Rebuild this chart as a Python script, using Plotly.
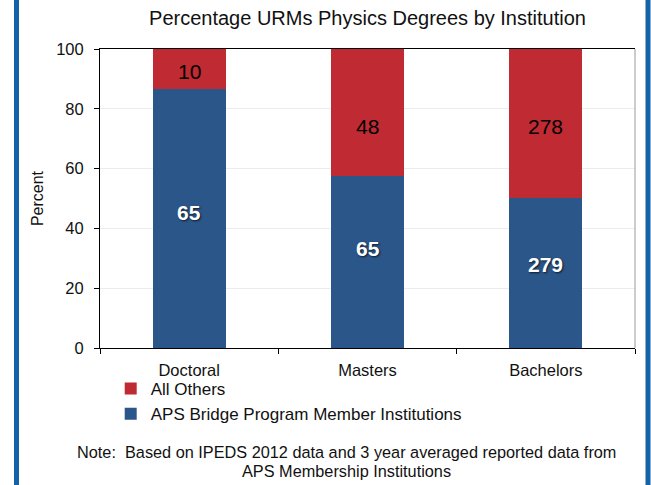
import plotly.graph_objects as go

categories = ["Doctoral", "Masters", "Bachelors"]
aps_counts = [65, 65, 279]
other_counts = [10, 48, 278]
series_names = ["APS Bridge Program Member Institutions", "All Others"]
y_ticks = [0, 20, 40, 60, 80, 100]
note_lines = ["Note:  Based on IPEDS 2012 data and 3 year averaged reported data from",
              "APS Membership Institutions"]

# label vertical nudges (pixels) as placed in the original
aps_label_shift = [5.5, 14, 8.5]
other_label_shift = [-3, -14, -3]

totals = [a + o for a, o in zip(aps_counts, other_counts)]
aps_pct = [100 * a / t for a, t in zip(aps_counts, totals)]
other_pct = [100 * o / t for o, t in zip(other_counts, totals)]

BLUE = "#2B5689"
RED = "#BF2A33"
FONT = "Liberation Sans, Arial, Helvetica, sans-serif"
TXT = "#111111"

fig = go.Figure()
fig.add_trace(go.Bar(
    x=categories, y=aps_pct, name=series_names[0],
    marker=dict(color=BLUE, line=dict(width=0)),
    hoverinfo="skip", width=0.41,
))
fig.add_trace(go.Bar(
    x=categories, y=other_pct, name=series_names[1],
    marker=dict(color=RED, line=dict(width=0)),
    hoverinfo="skip", width=0.41,
))

for cat, a_pct, o_pct, a_n, o_n, a_s, o_s in zip(
        categories, aps_pct, other_pct, aps_counts, other_counts,
        aps_label_shift, other_label_shift):
    fig.add_annotation(
        x=cat, y=a_pct / 2, text=str(a_n), showarrow=False, yshift=a_s,
        xanchor="center", yanchor="middle",
        font=dict(color="white", size=21, family=FONT, weight="bold",
                  shadow="1px 1px 2px rgba(0,0,0,0.7)"),
    )
    fig.add_annotation(
        x=cat, y=a_pct + o_pct / 2, text=str(o_n), showarrow=False, yshift=o_s,
        xanchor="center", yanchor="middle",
        font=dict(color="black", size=21, family=FONT),
    )

fig.update_layout(
    width=651, height=485,
    margin=dict(l=100, r=16, t=49, b=137),
    paper_bgcolor="white", plot_bgcolor="white",
    barmode="stack",
    font=dict(family=FONT, size=16.5, color=TXT),
    title=dict(text="Percentage URMs Physics Degrees by Institution",
               x=0.5, xref="paper", xanchor="center",
               y=1 - 18 / 485, yanchor="middle",
               font=dict(size=20, family=FONT, color=TXT)),
    showlegend=True,
    legend=dict(orientation="v", x=0.02, xanchor="left", y=-0.077, yanchor="top",
                traceorder="reversed", font=dict(size=17, family=FONT, color=TXT),
                itemwidth=30, tracegroupgap=0, bgcolor="rgba(0,0,0,0)"),
)
fig.update_xaxes(
    showline=True, linecolor="black", linewidth=1, mirror=True,
    ticks="outside", tickson="boundaries", ticklen=5, tickcolor="black",
    tickfont=dict(size=16.5), showgrid=False, ticklabelstandoff=7,
)
fig.update_yaxes(
    range=[0, 100], tickvals=y_ticks, ticks="outside", ticklen=5, tickcolor="black",
    showline=True, linecolor="black", linewidth=1,
    showgrid=True, gridcolor="#ECECEC", gridwidth=1, zeroline=False,
    tickfont=dict(size=16.5), ticklabelstandoff=7,
    title=dict(text="Percent", font=dict(size=16), standoff=8),
)
# right frame edge (lighter)
fig.add_shape(type="line", xref="paper", yref="paper", x0=1, x1=1, y0=0, y1=1,
              line=dict(color="#999999", width=1))
# blue page borders
for xp in [(16.5 - 100) / 535, (648 - 100) / 535]:
    fig.add_shape(type="line", xref="paper", yref="paper", x0=xp, x1=xp,
                  y0=-0.46, y1=1.17, line=dict(color="#1462A8", width=5))

for line, ypix in zip(note_lines, [452, 471]):
    fig.add_annotation(
        text=line, xref="paper", yref="paper",
        x=(346 - 100) / 535, y=(348 - ypix) / 299,
        xanchor="center", yanchor="middle", showarrow=False,
        font=dict(size=16.3, family=FONT, color=TXT),
    )

fig.write_html("out.html",
               config={"displayModeBar": False},
               post_script="document.body.style.margin='0';document.body.style.overflow='hidden';")
